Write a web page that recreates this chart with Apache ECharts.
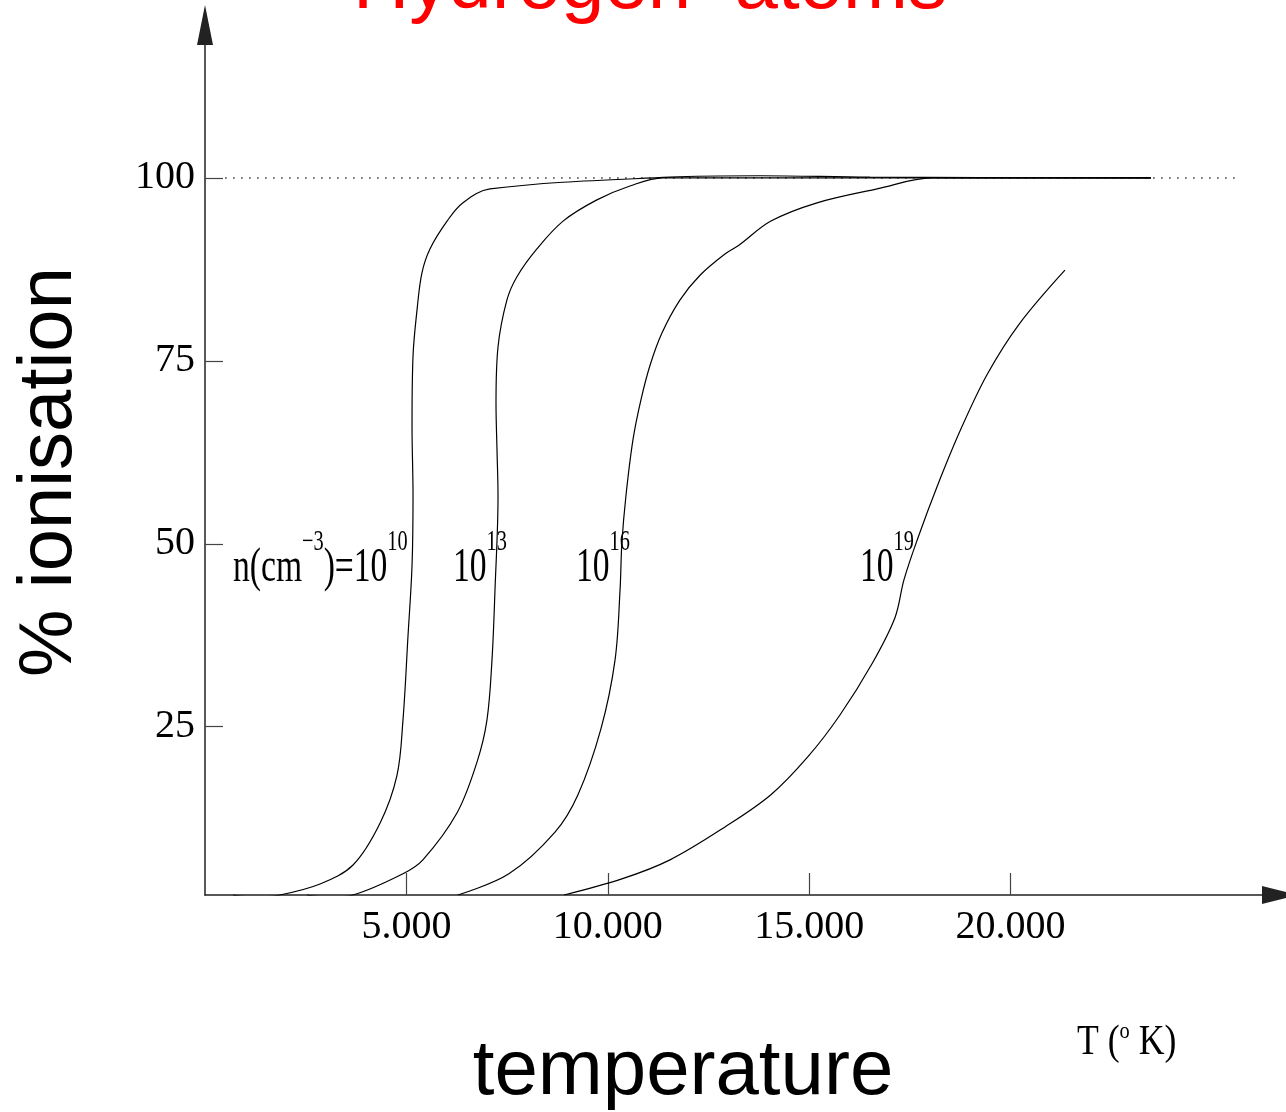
<!DOCTYPE html>
<html>
<head>
<meta charset="utf-8">
<title>Hydrogen atoms</title>
<script src="https://cdn.jsdelivr.net/npm/echarts@6/dist/echarts.min.js"></script>
<style>
  html, body { margin: 0; padding: 0; background: #fff; }
  #chart { width: 1286px; height: 1112px; }
</style>
</head>
<body>
<div id="chart"></div>
<script>
// ionisation curves, temperature in K / percent ionised
var t10 = [695, 1240, 1860, 2855, 3675, 4345, 4765, 4915, 5040, 5140, 5165, 5140, 5165, 5265, 5385, 5585, 6010, 6405, 7075, 11545, 13780, 16510, 23485];
var p10 = [2.0, 1.7, 2.0, 3.5, 6.1, 11.8, 18.3, 25.9, 37.4, 47.0, 56.5, 66.1, 75.7, 82.0, 87.0, 90.3, 94.1, 96.6, 98.5, 100.1, 100.3, 100.1, 100.0];

var t13 = [2530, 3100, 3675, 4915, 5410, 6255, 6755, 7000, 7125, 7200, 7275, 7250, 7225, 7275, 7495, 7745, 8240, 8890, 9730, 10550, 11370, 23485];
var p13 = [2.0, 1.7, 2.0, 4.9, 6.8, 13.2, 20.2, 25.9, 34.1, 43.7, 56.5, 62.8, 69.2, 76.9, 83.3, 86.5, 90.3, 94.1, 97.0, 98.9, 100.0, 100.0];

var t16 = [6280, 7545, 8690, 9260, 9830, 10180, 10305, 10350, 10450, 10625, 10825, 11050, 11345, 11790, 12290, 12910, 13255, 14050, 15195, 16685, 18050, 23485];
var p16 = [2.0, 4.9, 10.6, 15.7, 24.7, 34.1, 43.7, 50.1, 56.5, 64.2, 69.7, 74.4, 78.8, 83.3, 86.7, 89.6, 90.8, 94.1, 96.6, 98.5, 100.0, 100.0];

var t19 = [8915, 10350, 11545, 12910, 14050, 14970, 15765, 16560, 17130, 17355, 17700, 18175, 18745, 19415, 20210, 21350];
var p19 = [2.0, 4.2, 6.8, 11.3, 15.7, 20.9, 26.6, 33.6, 39.9, 45.1, 50.8, 57.8, 65.4, 73.1, 80.0, 87.4];

// dotted 100% guide
var fullT = [500, 25600];
var fullP = [100, 100];

var xTicks = [5000, 10000, 15000, 20000];
var yTicks = [25, 50, 75, 100];

// density labels next to the curves
var labelT = [695, 6155, 9210, 16260];
var labelP = [52.2, 52.2, 52.2, 52.2];
var curveLabels = [
  '{b|n(cm}{s|\u22123}{b|)=10}{s|10}',
  '{b|10}{s|13}',
  '{b|10}{s|16}',
  '{b|10}{s|19}'
];

function zip(xs, ys) {
  return xs.map(function (x, i) { return [x, ys[i]]; });
}

var serif = 'Liberation Serif';
var sans = 'Liberation Sans';

var labelRich = {
  b: { fontFamily: serif, fontSize: 48, lineHeight: 82, verticalAlign: 'middle', color: '#000' },
  s: { fontFamily: serif, fontSize: 29, lineHeight: 29, verticalAlign: 'top', color: '#000' }
};

var chart = echarts.init(document.getElementById('chart'), null, { renderer: 'canvas' });

function curve(xs, ys) {
  return {
    type: 'line',
    data: zip(xs, ys),
    symbol: 'none',
    showSymbol: false,
    smooth: 0.35,
    lineStyle: { color: '#000', width: 1.2 },
    z: 3
  };
}

var option = {
  backgroundColor: '#fff',
  animation: false,
  title: {
    text: 'Hydrogen  atoms',
    left: 348,
    top: -58,
    textStyle: { color: '#ff0000', fontFamily: sans, fontSize: 78, fontWeight: 'normal' }
  },
  grid: { left: 205, right: 6, top: 25, bottom: 217, containLabel: false, outerBoundsMode: 'none' },
  xAxis: {
    type: 'value',
    min: 0,
    max: 26690,
    splitLine: { show: false },
    axisLine: {
      onZero: false,
      lineStyle: { color: '#222', width: 1.5 },
      symbol: ['none', 'triangle'],
      symbolSize: [18, 36]
    },
    axisTick: { inside: true, length: 22, customValues: xTicks, lineStyle: { color: '#444', width: 1.2 } },
    axisLabel: {
      customValues: xTicks,
      formatter: function (v) { return (v / 1000) + '.000'; },
      fontFamily: serif,
      fontSize: 40,
      color: '#000',
      margin: 12
    }
  },
  yAxis: {
    type: 'value',
    min: 2,
    max: 120.9,
    splitLine: { show: false },
    axisLine: {
      onZero: false,
      lineStyle: { color: '#222', width: 1.5 },
      symbol: ['none', 'triangle'],
      symbolSize: [16, 40]
    },
    axisTick: { inside: true, length: 18, customValues: yTicks, lineStyle: { color: '#444', width: 1.2 } },
    axisLabel: {
      customValues: yTicks,
      fontFamily: serif,
      fontSize: 40,
      color: '#000',
      margin: 10
    }
  },
  graphic: [
    {
      type: 'text',
      x: 50,
      y: 472,
      rotation: Math.PI / 2,
      style: { text: '% ionisation', font: '76px "Liberation Sans"', fill: '#000', align: 'center', verticalAlign: 'middle' }
    },
    {
      type: 'text',
      x: 683,
      y: 1072,
      style: { text: 'temperature', font: '78px "Liberation Sans"', fill: '#000', align: 'center', verticalAlign: 'middle' }
    },
    {
      type: 'text',
      x: 1077,
      y: 1020,
      scaleX: 0.85,
      style: {
        text: '{b|T (}{s|o}{b| K)}',
        align: 'left',
        verticalAlign: 'top',
        fill: '#000',
        rich: {
          b: { fontFamily: serif, fontSize: 42, lineHeight: 45, verticalAlign: 'middle', color: '#000' },
          s: { fontFamily: serif, fontSize: 24, lineHeight: 24, verticalAlign: 'top', color: '#000' }
        }
      }
    }
  ],
  series: [
    {
      type: 'line',
      data: zip(fullT, fullP),
      symbol: 'none',
      lineStyle: { color: '#333', width: 1.5, type: [1.5, 6.5] },
      z: 2
    },
    curve(t10, p10),
    curve(t13, p13),
    curve(t16, p16),
    curve(t19, p19),
    {
      type: 'custom',
      data: zip(labelT, labelP),
      silent: true,
      z: 4,
      renderItem: function (params, api) {
        var pt = api.coord([api.value(0), api.value(1)]);
        return {
          type: 'text',
          x: pt[0],
          y: pt[1],
          scaleX: 0.7,
          style: {
            text: curveLabels[params.dataIndex],
            rich: labelRich,
            fill: '#000',
            align: 'left',
            verticalAlign: 'top'
          }
        };
      }
    }
  ]
};

chart.setOption(option);
</script>
</body>
</html>
